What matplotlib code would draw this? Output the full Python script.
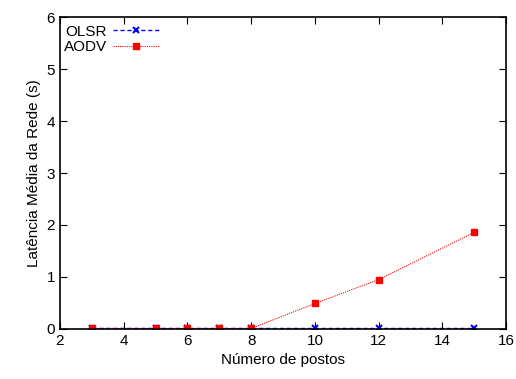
import matplotlib
matplotlib.use("Agg")
import matplotlib.pyplot as plt

plt.rcParams['font.family'] = ['Liberation Sans', 'DejaVu Sans']

postos = [3, 5, 6, 7, 8, 10, 12, 15]
olsr = [0.01, 0.01, 0.01, 0.01, 0.01, 0.01, 0.01, 0.01]
aodv = [0.01, 0.01, 0.01, 0.01, 0.01, 0.49, 0.95, 1.86]

fig = plt.figure(figsize=(5.16, 3.79), dpi=100)
ax = fig.add_axes([0.116, 0.132, 0.865, 0.823])

ax.plot(postos, olsr, color='#0000ff', linestyle=(0, (3, 2)), linewidth=1,
        marker='x', markersize=4, markeredgewidth=1.5, label='OLSR')
ax.plot(postos, aodv, color='#ff0000', linestyle=(0, (1, 1)), linewidth=0.8,
        marker='s', markersize=5, markerfacecolor='#ff0000', label='AODV')

ax.set_xlim(2, 16)
ax.set_ylim(0, 6)
ax.set_xticks(range(2, 17, 2))
ax.set_yticks(range(0, 7))
ax.tick_params(direction='in', top=True, right=True, labelsize=11, length=5)
for s in ax.spines.values():
    s.set_linewidth(1.2)

ax.set_xlabel('Número de postos', fontsize=11)
ax.set_ylabel('Latência Média da Rede (s)', fontsize=11)

ax.legend(loc='upper left', bbox_to_anchor=(-0.008, 1.0), markerfirst=False,
          frameon=False, fontsize=11, handlelength=3, borderaxespad=0.1,
          labelspacing=0.1, handletextpad=0.4)

fig.savefig('out.png', dpi=100)
